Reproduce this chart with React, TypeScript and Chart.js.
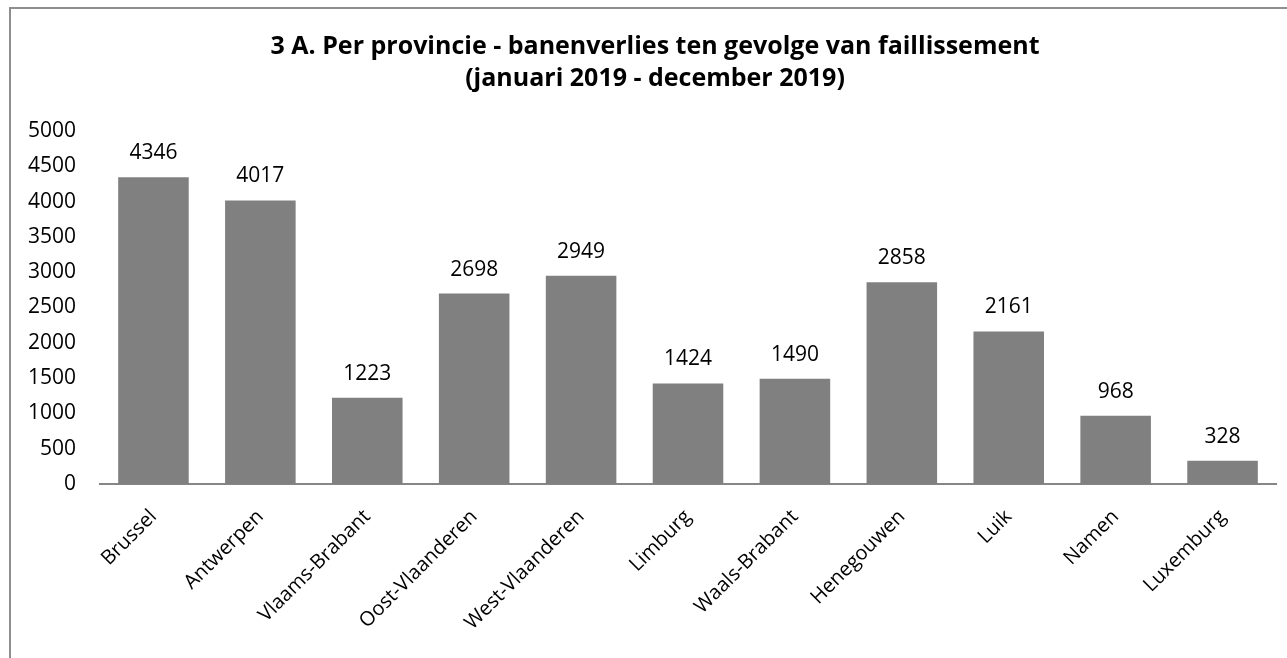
import React, { useEffect, useRef } from "react";
import { Chart, registerables } from "chart.js";

Chart.register(...registerables);

const categories = [
  "Brussel",
  "Antwerpen",
  "Vlaams-Brabant",
  "Oost-Vlaanderen",
  "West-Vlaanderen",
  "Limburg",
  "Waals-Brabant",
  "Henegouwen",
  "Luik",
  "Namen",
  "Luxemburg",
];
const values = [4346, 4017, 1223, 2698, 2949, 1424, 1490, 2858, 2161, 968, 328];
const titleLines = [
  "3 A. Per provincie - banenverlies ten gevolge van faillissement",
  "(januari 2019 - december 2019)",
];
const yMin = 0;
const yMax = 5000;
const yStep = 500;

const FONT = "'Open Sans', 'Noto Sans', sans-serif";

const titlePlugin = {
  id: "customTitle",
  afterDraw(chart: any) {
    const ctx = chart.ctx;
    ctx.save();
    ctx.fillStyle = "#000";
    ctx.font = `bold 25px ${FONT}`;
    ctx.textAlign = "center";
    ctx.textBaseline = "middle";
    ctx.fillText(titleLines[0], 655, 47);
    ctx.fillText(titleLines[1], 655, 79);
    ctx.restore();
  },
};

const valueLabelPlugin = {
  id: "valueLabels",
  afterDatasetsDraw(chart: any) {
    const ctx = chart.ctx;
    const meta = chart.getDatasetMeta(0);
    ctx.save();
    ctx.fillStyle = "#000";
    ctx.font = `21px ${FONT}`;
    ctx.textAlign = "center";
    ctx.textBaseline = "alphabetic";
    meta.data.forEach((bar: any, i: number) => {
      ctx.fillText(String(values[i]), bar.x, bar.y - 18);
    });
    ctx.restore();
  },
};

export default function App() {
  const canvasRef = useRef<HTMLCanvasElement>(null);

  useEffect(() => {
    if (!canvasRef.current) return;
    const chart = new Chart(canvasRef.current, {
      type: "bar",
      data: {
        labels: categories,
        datasets: [
          {
            data: values,
            backgroundColor: "#808080",
            borderWidth: 0,
            barPercentage: 0.66,
            categoryPercentage: 1,
          },
        ],
      },
      options: {
        animation: false,
        responsive: false,
        maintainAspectRatio: false,
        layout: { padding: { top: 131, right: 11, bottom: 0, left: 0 } },
        plugins: {
          legend: { display: false },
          title: { display: false },
          tooltip: { enabled: false },
        },
        scales: {
          x: {
            grid: { display: false },
            border: { display: true, color: "#868686", width: 2 },
            ticks: {
              color: "#000",
              font: { family: FONT, size: 20 },
              minRotation: 45,
              maxRotation: 45,
              autoSkip: false,
              padding: 13,
            },
            afterFit(scale: any) {
              scale.height = 174;
            },
          },
          y: {
            min: yMin,
            max: yMax,
            grid: { display: false, drawTicks: false },
            border: { display: false },
            ticks: {
              stepSize: yStep,
              color: "#000",
              font: { family: FONT, size: 21 },
              padding: 24,
              callback: (v: any) => String(v),
            },
            afterFit(scale: any) {
              scale.width = 100;
            },
          },
        },
      },
      plugins: [titlePlugin, valueLabelPlugin],
    });
    return () => chart.destroy();
  }, []);

  return (
    <>
      <div
        style={{
          position: "absolute",
          left: 0,
          top: 0,
          width: 1287,
          height: 658,
          background: "#fff",
        }}
      >
        <canvas ref={canvasRef} width={1287} height={658} style={{ display: "block" }} />
      </div>
      <div
        style={{
          position: "absolute",
          left: 9,
          top: 7,
          width: 1278,
          height: 651,
          boxSizing: "border-box",
          borderLeft: "2px solid #8e8e8e",
          borderTop: "2px solid #8e8e8e",
          pointerEvents: "none",
        }}
      />
    </>
  );
}
